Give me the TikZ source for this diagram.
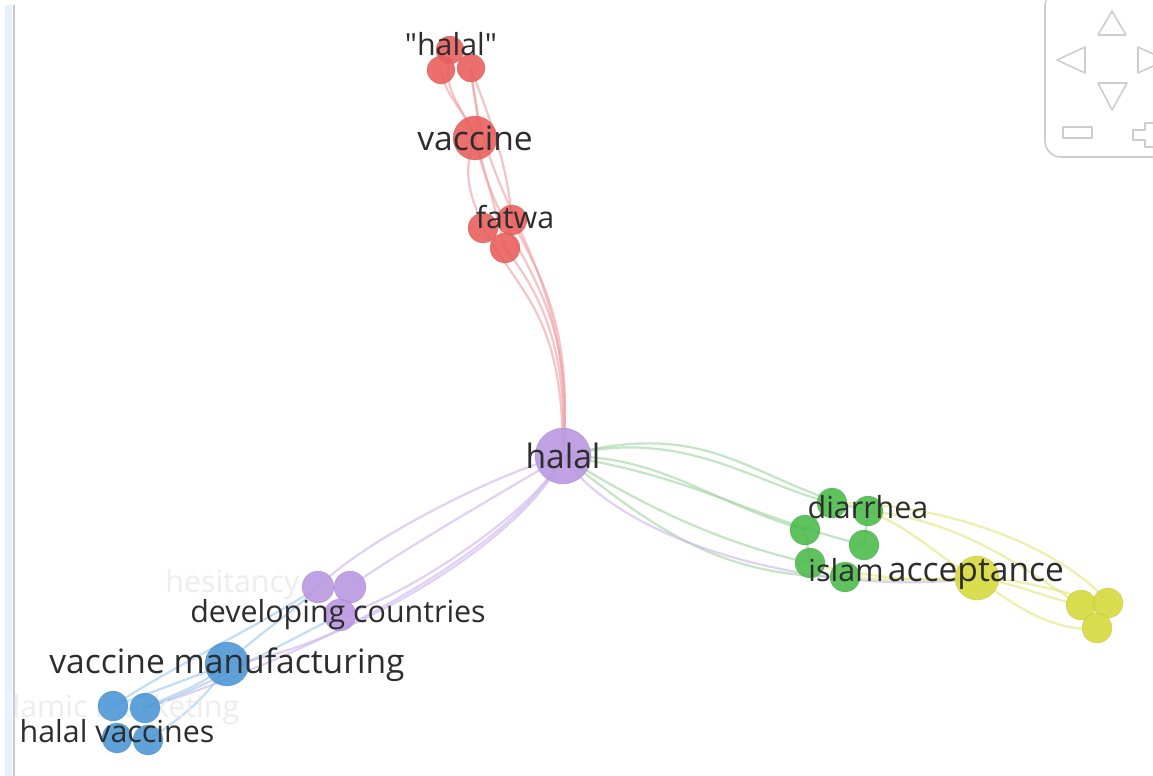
\documentclass[tikz,border=0pt]{standalone}
\usepackage{fontspec}
\setmainfont[Ligatures=TeXOff]{Open Sans}
\pgfdeclarelayer{back}
\pgfdeclarelayer{bg}
\pgfsetlayers{back,bg,main}
\definecolor{cred}{RGB}{232,96,94}
\definecolor{cpur}{RGB}{186,152,226}
\definecolor{cblu}{RGB}{78,152,215}
\definecolor{cgrn}{RGB}{78,188,78}
\definecolor{cyel}{RGB}{214,218,62}
\definecolor{ered}{RGB}{240,165,168}
\definecolor{epur}{RGB}{208,184,238}
\definecolor{eblu}{RGB}{165,202,236}
\definecolor{egrn}{RGB}{165,215,165}
\definecolor{eyel}{RGB}{226,232,128}
\definecolor{tcol}{RGB}{45,45,45}
\definecolor{navc}{RGB}{205,205,205}
\definecolor{bandc}{RGB}{232,242,252}
\definecolor{linec}{RGB}{198,203,210}
\tikzset{
  ball/.style={circle, inner sep=0pt, fill opacity=0.9, draw opacity=0.18, line width=0.4pt},
  rball/.style={ball, fill=cred, draw=cred!70!black, minimum size=15pt},
  pball/.style={ball, fill=cpur, draw=cpur!70!black, minimum size=16pt},
  bball/.style={ball, fill=cblu, draw=cblu!70!black, minimum size=15pt},
  gball/.style={ball, fill=cgrn, draw=cgrn!70!black, minimum size=15pt},
  yball/.style={ball, fill=cyel, draw=cyel!70!black, minimum size=15pt},
  biglab/.style={text=tcol, inner sep=0pt, anchor=base, font=\fontsize{16.8pt}{18pt}\selectfont},
  medlab/.style={text=tcol, inner sep=0pt, anchor=base, font=\fontsize{15.2pt}{16pt}\selectfont},
  fadelab/.style={text=black!7, inner sep=0pt, anchor=base west, font=\fontsize{15.2pt}{16pt}\selectfont},
  edge/.style={line width=1.1pt, draw opacity=0.65},
  redE/.style={edge, draw=ered},
  purE/.style={edge, draw=epur},
  bluE/.style={edge, draw=eblu},
  grnE/.style={edge, draw=egrn},
  yelE/.style={edge, draw=eyel},
  nav/.style={draw=navc, line width=0.8pt, line join=round},
}
\begin{document}
\begin{tikzpicture}[x=0.5pt, y=-0.5pt]
\clip (0,0) rectangle (1153,776);
\begin{pgfonlayer}{back}
\fill[white] (0,0) rectangle (1153,776);
% left border
\fill[bandc] (5,5) rectangle (12,776);
\draw[linec, line width=1pt] (13.5,5) -- (13.5,776);
\end{pgfonlayer}

% faint labels
\begin{scope}
\clip (15,0) rectangle (1153,776);
\node[fadelab] (fl1) at (-10,717) {islamic marketing};
\end{scope}
\node[fadelab] (fl2) at (165,592) {hesitancy};

% red cluster
\node[rball, minimum size=14pt] (rh1) at (450,50) {};
\node[rball, minimum size=14pt] (rh2) at (441,70) {};
\node[rball, minimum size=14pt] (rh3) at (471,68) {};
\node[rball, minimum size=22pt] (rvac) at (475,138) {};
\node[rball] (rf1) at (483,228) {};
\node[rball] (rf2) at (512,220) {};
\node[rball] (rf3) at (505,248) {};
% purple
\node[pball, minimum size=28pt] (phal) at (563,456) {};
\node[pball] (pd1) at (318,587) {};
\node[pball] (pd2) at (350,587) {};
\node[pball] (pd3) at (340,615) {};
% blue
\node[bball, minimum size=22pt] (bvm) at (227,664) {};
\node[bball] (bh1) at (113,706) {};
\node[bball] (bh2) at (145,708) {};
\node[bball] (bh3) at (117,738) {};
\node[bball] (bh4) at (148,740) {};
% green
\node[gball] (g1) at (832,503) {};
\node[gball] (g2) at (868,511) {};
\node[gball] (g3) at (805,530) {};
\node[gball] (g4) at (864,545) {};
\node[gball] (g5) at (810,563) {};
\node[gball] (g6) at (845,577) {};
% yellow
\node[yball, minimum size=22pt] (yacc) at (977,578) {};
\node[yball] (y1) at (1081,605) {};
\node[yball] (y2) at (1108,603) {};
\node[yball] (y3) at (1097,628) {};

% labels
\node[medlab] (lhq) at (451,55) {"halal"};
\node[biglab] (lvac) at (475,150) {vaccine};
\node[medlab] (lfat) at (515,228) {fatwa};
\node[biglab] (lhal) at (563,468) {halal};
\node[medlab] (ldev) at (338,622) {developing countries};
\node[biglab] (lvm) at (227,673) {vaccine manufacturing};
\node[medlab] (lhv) at (117,742) {halal vaccines};
\node[medlab] (ldia) at (868,518) {diarrhea};
\node[medlab] (lisl) at (846,581) {islam};
\node[biglab] (lacc) at (976,581) {acceptance};

\begin{pgfonlayer}{bg}
% red edges
\draw[redE] (phal.center) .. controls +(5,-110) and +(35,45) .. (rf3.center);
\draw[redE] (phal.center) .. controls +(10,-130) and +(30,60) .. (rf2.center);
\draw[redE] (phal.center) .. controls +(0,-140) and +(40,70) .. (rf1.center);
\draw[redE] (phal.center) .. controls +(15,-170) and +(25,120) .. (rvac.center);
\draw[redE] (phal.center) .. controls +(12,-200) and +(12,150) .. (rh3.center);
\draw[redE] (rh2.center) .. controls +(5,30) and +(-10,-30) .. (rvac.center);
\draw[redE] (rh1.center) .. controls +(-8,40) and +(-18,-40) .. (rvac.center);
\draw[redE] (rh3.center) .. controls +(2,30) and +(6,-30) .. (rvac.center);
\draw[redE] (rvac.center) .. controls +(-15,40) and +(-10,-30) .. (rf1.center);
\draw[redE] (rvac.center) .. controls +(12,40) and +(-10,-40) .. (rf3.center);
\draw[redE] (rh3.center) .. controls +(18,50) and +(-5,-60) .. (rf2.center);
% purple edges
\draw[purE] (phal.center) .. controls +(-60,15) and +(50,-50) .. (pd1.center);
\draw[purE] (phal.center) .. controls +(-50,30) and +(40,-30) .. (pd2.center);
\draw[purE] (phal.center) .. controls +(-30,60) and +(50,-10) .. (pd3.center);
\draw[purE] (phal.center) .. controls +(-40,90) and +(100,-10) .. (bvm.center);
\draw[purE] (phal.center) .. controls +(-60,110) and +(130,-40) .. (bh2.center);
% blue edges
\draw[bluE] (pd1.center) .. controls +(-30,30) and +(30,-30) .. (bvm.center);
\draw[bluE] (pd1.center) .. controls +(-60,40) and +(60,-40) .. (bh1.center);
\draw[bluE] (pd3.center) .. controls +(-80,40) and +(60,-20) .. (bh2.center);
\draw[bluE] (bvm.center) .. controls +(-40,15) and +(30,-10) .. (bh1.center);
\draw[bluE] (bvm.center) .. controls +(-30,25) and +(30,-15) .. (bh2.center);
\draw[bluE] (bvm.center) .. controls +(-20,35) and +(30,-20) .. (bh4.center);
% green edges
\draw[grnE] (phal.center) .. controls +(120,-30) and +(-80,-20) .. (g1.center);
\draw[grnE] (phal.center) .. controls +(150,-40) and +(-120,-30) .. (g2.center);
\draw[grnE] (phal.center) .. controls +(100,0) and +(-100,-30) .. (g3.center);
\draw[grnE] (phal.center) .. controls +(130,20) and +(-120,-30) .. (g4.center);
\draw[grnE] (phal.center) .. controls +(80,50) and +(-90,-20) .. (g5.center);
\draw[grnE] (phal.center) .. controls +(100,80) and +(-120,0) .. (g6.center);
\draw[purE] (phal.center) .. controls +(60,90) and +(-150,20) .. (yacc.center);
\draw[grnE] (g1.center) -- (g3.center);
\draw[grnE] (g3.center) -- (g5.center);
\draw[grnE] (g2.center) -- (g4.center);
% yellow edges
\draw[yelE] (g5.center) .. controls +(60,15) and +(-50,5) .. (yacc.center);
\draw[yelE] (g6.center) .. controls +(40,5) and +(-40,0) .. (yacc.center);
\draw[yelE] (g2.center) .. controls +(50,20) and +(-40,-20) .. (yacc.center);
\draw[yelE] (g2.center) .. controls +(100,10) and +(-50,-30) .. (y1.center);
\draw[yelE] (g1.center) .. controls +(140,0) and +(-30,-40) .. (y2.center);
\draw[yelE] (yacc.center) .. controls +(40,5) and +(-30,-5) .. (y1.center);
\draw[yelE] (yacc.center) .. controls +(40,30) and +(-40,5) .. (y3.center);
\draw[yelE] (yacc.center) .. controls +(50,0) and +(-30,-5) .. (y2.center);
\end{pgfonlayer}

% navigation widget
\draw[nav, rounded corners=8pt] (1045,-10) rectangle (1180,157);
\draw[nav] (1112,11) -- (1126,35) -- (1098,35) -- cycle;
\draw[nav] (1057,60) -- (1085,47) -- (1085,73) -- cycle;
\draw[nav] (1166,60) -- (1138,47) -- (1138,73) -- cycle;
\draw[nav] (1098,83) -- (1127,83) -- (1112,110) -- cycle;
\draw[nav] (1063,127) rectangle (1092,138);
\draw[nav] (1145,123) -- (1155,123) -- (1155,130) -- (1163,130) -- (1163,140)
  -- (1155,140) -- (1155,147) -- (1145,147) -- (1145,140) -- (1133,140)
  -- (1133,130) -- (1145,130) -- cycle;
\end{tikzpicture}
\end{document}
